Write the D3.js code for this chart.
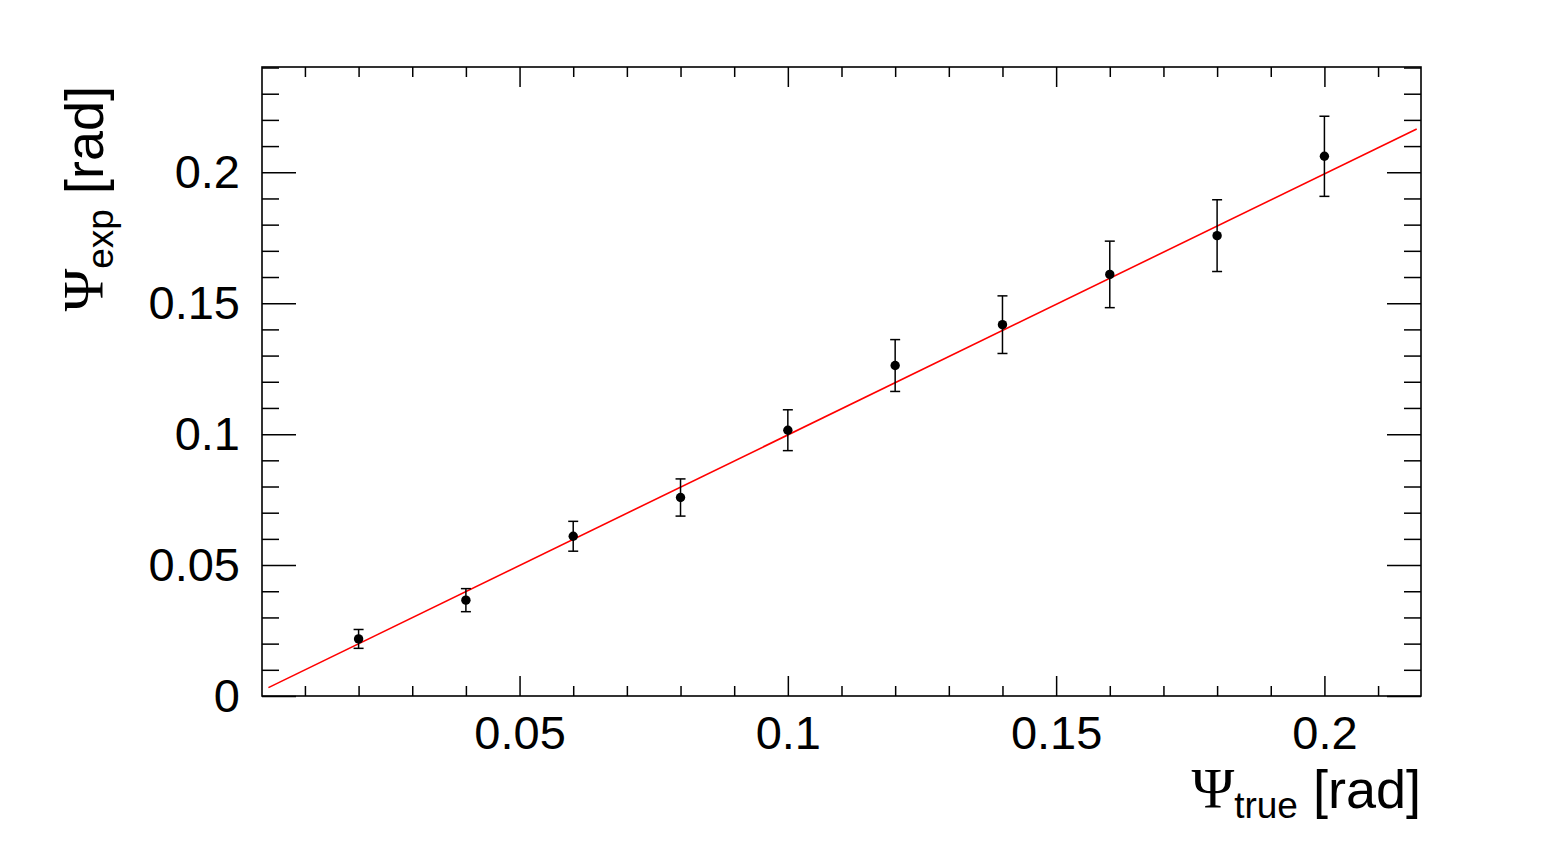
<!DOCTYPE html>
<html>
<head>
<meta charset="utf-8">
<script src="https://cdn.jsdelivr.net/npm/d3@7"></script>
<style>
  body { margin: 0; background: #fff; }
  text { font-family: "Liberation Sans", Arial, sans-serif; fill: #000; }
</style>
</head>
<body>
<svg id="chart"></svg>
<script>
// data
const psiTrue = [0.02, 0.04, 0.06, 0.08, 0.10, 0.12, 0.14, 0.16, 0.18, 0.20];
const psiExp = [0.0218, 0.0366, 0.0610, 0.0758, 0.1015, 0.1262, 0.1418, 0.1610, 0.1758, 0.2061];
const psiErr = [0.0036, 0.0044, 0.0057, 0.0071, 0.0078, 0.0099, 0.0110, 0.0127, 0.0137, 0.0153];
// linear fit  y = p0 + p1*x
const fitRange = [0.0032, 0.2172];
const fitParams = [0.0, 0.997];
const xMajor = [0.05, 0.10, 0.15, 0.20];
const xMinor = [0.01, 0.02, 0.03, 0.04, 0.06, 0.07, 0.08, 0.09, 0.11, 0.12, 0.13, 0.14, 0.16, 0.17, 0.18, 0.19, 0.21];
const yMajor = [0, 0.05, 0.10, 0.15, 0.20];
const yMinor = [0.01, 0.02, 0.03, 0.04, 0.06, 0.07, 0.08, 0.09, 0.11, 0.12, 0.13, 0.14, 0.16, 0.17, 0.18, 0.19, 0.21, 0.22, 0.23, 0.24];

const W = 1545, H = 849;
const margin = {top: 67, right: 124, bottom: 153, left: 262};
const width = W - margin.left - margin.right;
const height = H - margin.top - margin.bottom;

const svg = d3.select('#chart').attr('width', W).attr('height', H);
const g = svg.append('g')
    .attr('transform', 'translate(' + margin.left + ',' + margin.top + ')');

const x = d3.scaleLinear().domain([0.002, 0.218]).range([0, width]);
const y = d3.scaleLinear().domain([0, 0.2402]).range([height, 0]);
const fmt = d => d === 0 ? '0' : String(+d.toFixed(2));

function drawAxis(axis, transform, withLabels, padding) {
  const a = g.append('g').attr('transform', transform).call(axis.tickPadding(padding || 3));
  a.select('.domain').remove();
  a.selectAll('line').attr('stroke', '#000').attr('stroke-width', 1.5);
  if (withLabels) a.selectAll('text').style('font-size', '47px').attr('fill', '#000');
  return a;
}

// x axes (bottom with labels, top ticks only)
drawAxis(d3.axisBottom(x).tickValues(xMinor).tickSize(-10).tickFormat(''), 'translate(0,' + height + ')');
drawAxis(d3.axisBottom(x).tickValues(xMajor).tickSize(-20).tickFormat(fmt), 'translate(0,' + height + ')', true, 20);
drawAxis(d3.axisTop(x).tickValues(xMinor).tickSize(-10).tickFormat(''), 'translate(0,0)');
drawAxis(d3.axisTop(x).tickValues(xMajor).tickSize(-20).tickFormat(''), 'translate(0,0)');

// y axes
drawAxis(d3.axisLeft(y).tickValues(yMinor).tickSize(-17).tickFormat(''), 'translate(0,0)');
drawAxis(d3.axisLeft(y).tickValues(yMajor).tickSize(-34).tickFormat(fmt), 'translate(0,0)', true, 22);
drawAxis(d3.axisRight(y).tickValues(yMinor).tickSize(-17).tickFormat(''), 'translate(' + width + ',0)');
drawAxis(d3.axisRight(y).tickValues(yMajor).tickSize(-34).tickFormat(''), 'translate(' + width + ',0)');

// frame
g.append('rect')
    .attr('width', width).attr('height', height)
    .attr('fill', 'none').attr('stroke', '#000').attr('stroke-width', 1.6);

// fit line
const fitLine = d3.line().x(d => x(d)).y(d => y(fitParams[0] + fitParams[1] * d));
g.append('path')
    .datum(fitRange)
    .attr('d', fitLine)
    .attr('fill', 'none').attr('stroke', '#ff0000').attr('stroke-width', 1.6);

// error bars + markers
const pts = psiTrue.map((v, i) => ({x: v, y: psiExp[i], e: psiErr[i]}));
const eb = g.selectAll('.err').data(pts).enter().append('g').attr('class', 'err')
    .attr('stroke', '#000').attr('stroke-width', 1.5);
eb.append('line')
    .attr('x1', d => x(d.x)).attr('x2', d => x(d.x))
    .attr('y1', d => y(d.y - d.e)).attr('y2', d => y(d.y + d.e));
eb.append('line')
    .attr('x1', d => x(d.x) - 5).attr('x2', d => x(d.x) + 5)
    .attr('y1', d => y(d.y - d.e)).attr('y2', d => y(d.y - d.e));
eb.append('line')
    .attr('x1', d => x(d.x) - 5).attr('x2', d => x(d.x) + 5)
    .attr('y1', d => y(d.y + d.e)).attr('y2', d => y(d.y + d.e));
g.selectAll('.pt').data(pts).enter().append('circle')
    .attr('cx', d => x(d.x)).attr('cy', d => y(d.y)).attr('r', 4.7).attr('fill', '#000');

// axis titles
const xt = svg.append('text')
    .attr('x', margin.left + width).attr('y', 808)
    .attr('text-anchor', 'end').style('font-size', '54px');
xt.append('tspan').style('font-family', '"Liberation Serif", serif').style('font-size', '58px').text('Ψ');
xt.append('tspan').attr('dy', 10).style('font-size', '37px').text('true');
xt.append('tspan').attr('dy', -10).text(' [rad]');

const yt = svg.append('text')
    .attr('transform', 'translate(103,86) rotate(-90)')
    .attr('text-anchor', 'end').style('font-size', '54px');
yt.append('tspan').style('font-family', '"Liberation Serif", serif').style('font-size', '58px').text('Ψ');
yt.append('tspan').attr('dy', 10).style('font-size', '37px').text('exp');
yt.append('tspan').attr('dy', -10).text(' [rad]');
</script>
</body>
</html>
